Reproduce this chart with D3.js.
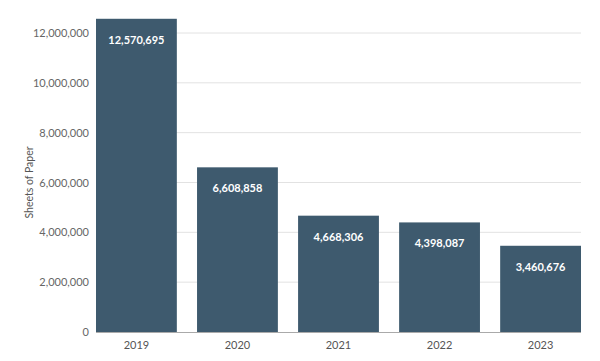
<!DOCTYPE html>
<html>
<head>
<meta charset="utf-8">
<script src="https://cdn.jsdelivr.net/npm/d3@7"></script>
<style>
  body { margin: 0; background: #fff; }
  text { font-family: Lato, "Open Sans", sans-serif; }
</style>
</head>
<body>
<div id="chart"></div>
<script>
/* données */
const years = ["2019", "2020", "2021", "2022", "2023"];
const sheets = [12570695, 6608858, 4668306, 4398087, 3460676];
const y_ticks = [0, 2000000, 4000000, 6000000, 8000000, 10000000, 12000000];

const width = 600;
const height = 361;
const margin = {top: 33, right: 19, bottom: 29, left: 96};

const svg = d3.select("#chart").append("svg")
    .attr("width", width)
    .attr("height", height);

const x = d3.scaleBand()
    .domain(years)
    .range([margin.left, width - margin.right])
    .paddingInner(0.2)
    .paddingOuter(0);

const y = d3.scaleLinear()
    .domain([0, 12000000])
    .range([height - margin.bottom, margin.top]);

const fmt = d3.format(",");

// lignes de grille
svg.append("g")
  .selectAll("line")
  .data(y_ticks.slice(1))
  .join("line")
    .attr("x1", margin.left)
    .attr("x2", width - margin.right)
    .attr("y1", d => y(d))
    .attr("y2", d => y(d))
    .attr("stroke", "#e2e2e2")
    .attr("stroke-width", 1);

// axe y (labels seulement)
const yAxis = svg.append("g")
    .attr("transform", `translate(${margin.left},0)`)
    .call(d3.axisLeft(y).tickValues(y_ticks).tickFormat(fmt).tickSize(0).tickPadding(7));
yAxis.select(".domain").remove();
yAxis.selectAll("text")
    .attr("fill", "#666")
    .style("font-size", "11px");

// barres
svg.append("g")
  .selectAll("rect")
  .data(sheets)
  .join("rect")
    .attr("x", (d, i) => x(years[i]))
    .attr("y", d => y(d))
    .attr("width", x.bandwidth())
    .attr("height", d => y(0) - y(d))
    .attr("fill", "#3e5a6e");

// valeurs dans les barres
svg.append("g")
  .selectAll("text")
  .data(sheets)
  .join("text")
    .attr("x", (d, i) => x(years[i]) + x.bandwidth() / 2)
    .attr("y", d => y(d) + 25)
    .attr("text-anchor", "middle")
    .attr("fill", "#fff")
    .style("font-size", "11px")
    .style("font-weight", "bold")
    .text(d => fmt(d));

// ligne de base
svg.append("line")
    .attr("x1", margin.left)
    .attr("x2", width - margin.right)
    .attr("y1", y(0) + 0.5)
    .attr("y2", y(0) + 0.5)
    .attr("stroke", "#aaa");

// axe x
const xAxis = svg.append("g")
    .attr("transform", `translate(0,${y(0)})`)
    .call(d3.axisBottom(x).tickSize(0).tickPadding(9));
xAxis.select(".domain").remove();
xAxis.selectAll("text")
    .attr("fill", "#555")
    .style("font-size", "11px");

// titre de l'axe y
svg.append("text")
    .attr("transform", `translate(33,${(margin.top + y(0)) / 2}) rotate(-90)`)
    .attr("text-anchor", "middle")
    .attr("fill", "#555")
    .style("font-size", "10.5px")
    .text("Sheets of Paper");
</script>
</body>
</html>
